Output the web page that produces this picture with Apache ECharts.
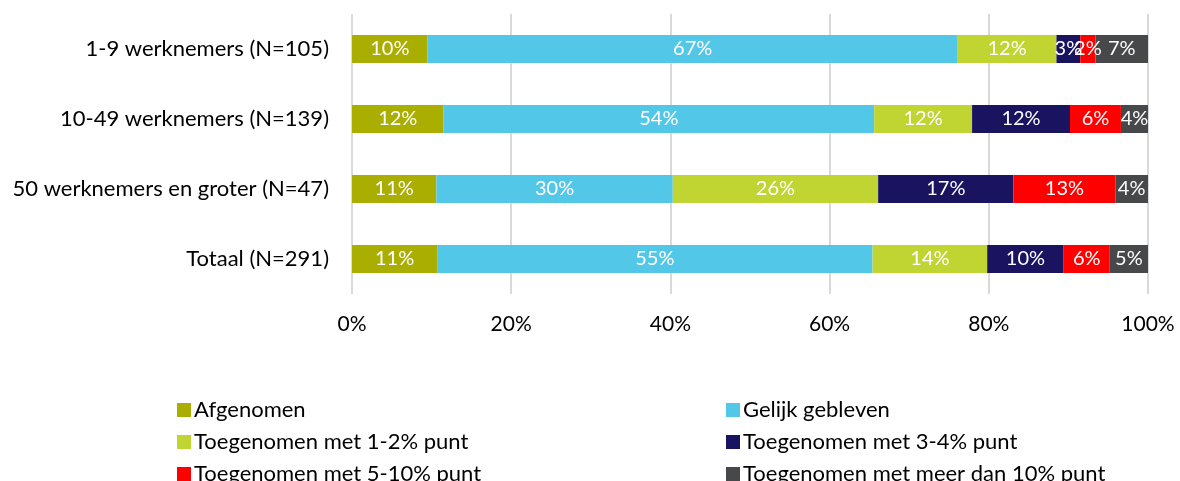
<!DOCTYPE html>
<html>
<head>
<meta charset="utf-8">
<script src="https://cdn.jsdelivr.net/npm/echarts@6/dist/echarts.min.js"></script>
<style>
  html, body { margin: 0; padding: 0; background: #fff; }
  #chart { width: 1180px; height: 481px; }
</style>
</head>
<body>
<div id="chart"></div>
<script>
// categories top to bottom
var categories = ['1-9 werknemers (N=105)', '10-49 werknemers (N=139)', '50 werknemers en groter (N=47)', 'Totaal (N=291)']
var seriesNames = ['Afgenomen', 'Gelijk gebleven', 'Toegenomen met 1-2% punt', 'Toegenomen met 3-4% punt', 'Toegenomen met 5-10% punt', 'Toegenomen met meer dan 10% punt']
// percentages per category (same order as categories)
var afgenomen = [9.5, 11.5, 10.6, 10.7]
var gelijk = [66.6, 54.1, 29.7, 54.7]
var toe12 = [12.4, 12.3, 25.8, 14.4]
var toe34 = [3.0, 12.3, 17.0, 9.6]
var toe510 = [1.9, 6.4, 12.8, 5.8]
var toe10plus = [6.6, 3.6, 4.1, 4.8]
var xTicks = [0, 20, 40, 60, 80, 100]

var colors = ['#A9AE00', '#53C7E8', '#C0D432', '#1A1360', '#FF0000', '#47484A']
var values = [afgenomen, gelijk, toe12, toe34, toe510, toe10plus]
var font = 'Lato, "Open Sans", sans-serif'

var chart = echarts.init(document.getElementById('chart'))

var series = seriesNames.map(function (name, i) {
  return {
    name: name,
    type: 'bar',
    stack: 'total',
    barWidth: '40%',
    itemStyle: { color: colors[i] },
    label: {
      show: true,
      position: 'inside',
      color: '#fff',
      fontFamily: font,
      fontSize: 20,
      formatter: function (p) { return Math.round(p.value) + '%' }
    },
    data: values[i]
  }
})

// legend: two columns, three rows
var legendPos = [[172, 394], [721, 394], [172, 426], [721, 426], [172, 458], [721, 458]]
var legends = seriesNames.map(function (name, i) {
  return {
    data: [name],
    left: legendPos[i][0],
    top: legendPos[i][1],
    icon: 'rect',
    itemWidth: 14,
    itemHeight: 14,
    itemGap: 4,
    textStyle: { fontFamily: font, fontSize: 22, color: '#000', padding: [0, 0, 0, -2] }
  }
})

chart.setOption({
  animation: false,
  legend: legends,
  grid: { left: 352, right: 32, top: 14, bottom: 187, containLabel: false },
  xAxis: {
    type: 'value',
    min: 0,
    max: 100,
    interval: 20,
    axisLine: { show: false },
    axisTick: { show: false },
    splitLine: { lineStyle: { color: '#D9D9D9', width: 2 } },
    axisLabel: {
      fontFamily: font,
      fontSize: 21,
      color: '#000',
      margin: 20,
      formatter: function (v) { return xTicks.indexOf(v) >= 0 ? v + '%' : '' }
    }
  },
  yAxis: {
    type: 'category',
    inverse: true,
    data: categories,
    axisLine: { show: false },
    axisTick: { show: false },
    axisLabel: { fontFamily: font, fontSize: 22, color: '#000', margin: 23 }
  },
  series: series
})
</script>
</body>
</html>
